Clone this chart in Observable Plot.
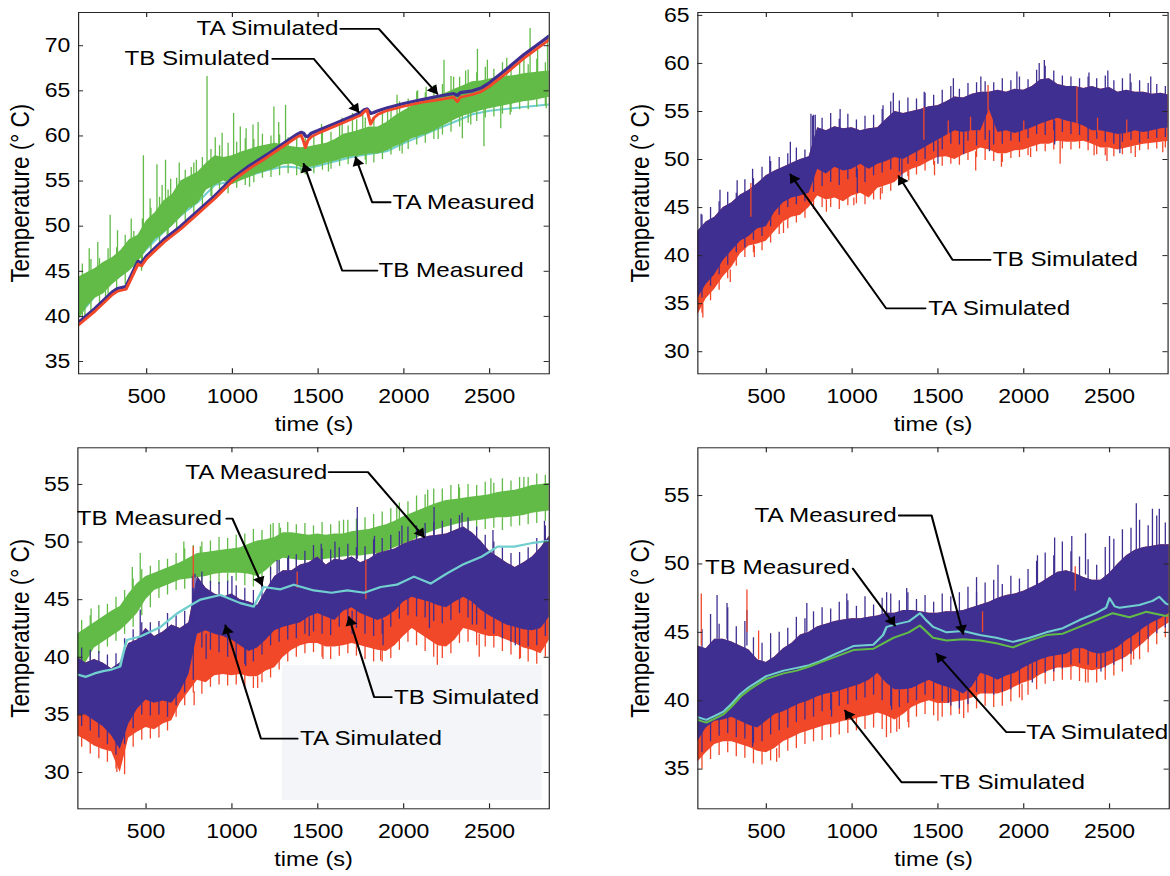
<!DOCTYPE html>
<html><head><meta charset="utf-8">
<script src="https://cdn.jsdelivr.net/npm/d3@7"></script>
<script src="https://cdn.jsdelivr.net/npm/@observablehq/plot@0.6"></script>
<style>
html,body{margin:0;padding:0;background:#fff;overflow:hidden;width:1170px;height:876px}
#wrap{position:absolute;left:0;top:0;width:992px;height:876px;transform:scaleX(1.18);transform-origin:0 0;}
.panel{position:absolute}
#shade{position:absolute;left:238.6px;top:665px;width:220.5px;height:135px;background:#f3f5f9}
</style></head><body><div id="wrap"><div id="shade"></div></div>
<script>
const S = 1.18;
const FONT = '"Liberation Sans", Arial, Helvetica, sans-serif';
const BLUE = "#3f2f91", RED = "#f2482a", GREEN = "#62bb47", CYAN = "#72cfcf";

// time grids (s)
const T = [100,150,200,250,300,350,400,450,500,550,600,650,700,750,800,850,900,950,1000,1050,1100,1150,1200,1250,1300,1350,1400,1450,1500,1550,1600,1650,1700,1750,1800,1850,1900,1950,2000,2050,2100,2150,2200,2250,2300,2350,2400,2450,2500,2550,2600,2650,2700,2750,2800,2850];
const TM = [125,175,225,275,325,375,425,475,525,575,625,675,725,775,825,875,925,975,1025,1075,1125,1175,1225,1275,1325,1375,1425,1475,1525,1575,1625,1675,1725,1775,1825,1875,1925,1975,2025,2075,2125,2175,2225,2275,2325,2375,2425,2475,2525,2575,2625,2675,2725,2775,2825];
const xTicks = [500,1000,1500,2000,2500];

// ---------- top-left ----------
const tlYTicks = [35,40,45,50,55,60,65,70];
const tlSimT = [100,200,300,330,380,420,450,470,500,600,700,800,900,1000,1100,1200,1300,1380,1400,1415,1426,1440,1460,1500,1600,1700,1750,1770,1785,1806,1825,1850,1900,2000,2100,2200,2290,2312,2330,2400,2450,2500,2600,2700,2800,2850];
const tlBlueSim = [39.3,40.9,42.7,43.1,43.3,44.9,46.1,45.9,46.7,48.5,50.0,51.7,53.4,55.3,56.7,57.9,59.2,60.2,60.4,60.3,60.0,59.9,60.3,60.6,61.4,62.2,62.6,62.9,63.0,62.5,62.6,62.8,63.1,63.6,64.0,64.4,64.7,64.5,64.8,65.0,65.3,65.9,67.4,69.0,70.4,71.1];
const tlRedSim = [39.0,40.6,42.4,42.8,43.0,44.6,45.8,45.6,46.4,48.2,49.7,51.4,53.1,55.0,56.4,57.6,58.9,59.9,60.1,59.4,58.7,59.5,59.9,60.3,61.1,61.9,62.3,62.7,62.9,61.3,62.0,62.4,62.8,63.3,63.7,64.0,64.3,63.8,64.3,64.6,64.9,65.5,67.0,68.6,70.0,70.7];
const tlGreenLo = [39.5,41.0,42.0,42.5,43.5,44.3,45.0,46.0,47.3,48.5,49.2,50.0,51.0,52.0,52.5,54.0,54.5,55.0,54.6,55.0,55.4,55.8,56.1,56.4,56.8,56.9,56.5,56.5,56.7,57.0,57.2,57.5,57.7,57.8,58.0,58.0,58.3,58.8,59.2,59.7,60.0,60.3,60.8,61.3,61.8,62.2,62.5,62.8,63.0,63.2,63.4,63.6,63.8,63.9,64.1,64.3];
const tlGreenHi = [44.3,44.8,45.3,46.0,46.5,47.3,48.5,49.0,50.6,51.5,52.8,53.5,55.0,55.5,56.0,57.0,57.8,57.6,57.8,58.2,58.5,58.8,59.0,59.2,59.0,58.8,58.7,58.8,59.0,59.2,59.6,60.2,60.4,60.7,61.0,61.0,61.5,62.2,62.8,63.3,63.7,64.0,64.4,64.8,65.2,65.6,66.0,66.1,66.3,66.5,66.6,66.7,66.9,67.0,67.1,67.2];
const tlGreenTop = [45.8,46.3,46.4,47.5,47.6, 49.0,49.4,50.8,52.0,53.2, 54.0,55.3,56.2,57.0,57.6, 58.5,58.9,59.2,59.3,59.7, 59.6,60.2,60.0,60.1,59.8, 59.9,60.1,59.8,60.6,60.4, 61.3,61.1,61.8,62.0,61.9, 62.6,63.1,63.8,64.1,64.9, 64.8,65.6,65.7,66.6,66.5, 67.3,67.0,67.6,67.4,68.1, 67.6,68.2,67.9,68.5,68.1];
const tlGreenBot = [39.4,40.6,41.2,42.1,43.0, 43.5,44.6,45.4,46.8,47.7, 48.7,49.5,50.6,51.2,52.3, 53.3,54.0,53.6,54.2,54.5, 54.8,55.3,55.4,55.6,55.8, 55.6,55.7,55.8,56.2,56.3, 56.6,56.8,56.9,57.3,57.0, 57.4,57.9,58.3,58.5,59.0, 59.2,59.6,60.1,60.4,61.0, 61.4,61.6,62.0,62.1,62.4, 62.6,62.9,62.9,63.2,63.3];
const tlGreenSpikes = [[287,44,51.2],[481,47.5,57.8],[560,49,56.8],[610,50,57.3],[690,51,57.0],[760,52,56.5],[852,55,66.6],[1007,56,62.5],[1046,56,61.0],[1150,57,61.5],[1242,57,63.2],[1310,57.5,63.4],[1700,59,62.5],[1905,60,63.2],[2040,61,63.7],[2234,62,68.4],[2341,59.7,63],[2429,64,69.6],[2467,58.8,63],[2487,64,68.4],[2565,60.8,64],[2736,65,71.9],[2838,65,71.1],
  [165,44,47.5],[215,44.5,48.2],[330,46,49.5],[410,47,50.8],[520,49,53.0],[590,50,54.5],[640,51,55.2],[790,54,57.3],[900,56,59.8],[940,56,60.3],[1080,57,60.8],[1120,57.5,61.2],[1270,58.5,61.5],[1520,58,61.3],[1640,58.5,62.0],[1760,59.5,62.3],[1960,61,64.5],[2080,62,65.0],[2130,62.5,65.4],[2290,63.5,66.5],[2360,64,67.2],[2600,65.5,68.6],[2700,66,69.0],[2780,66,69.5],
  [140,42,39.8],[260,43.5,41.5],[470,47,45.0],[620,50.5,48.3],[880,55,53.2],[1100,56,54.3],[1400,57.5,55.8],[1560,58,56.0],[1780,59,56.8],[1990,60,58.0],[2200,62,59.6],[2390,63,61.2],[2620,64.5,62.3],[2830,65,63.0]];
const tlCyanT = [100,200,300,400,500,600,700,800,900,1000,1100,1200,1300,1380,1420,1460,1500,1600,1700,1800,1900,2000,2100,2200,2300,2400,2500,2600,2700,2800,2850];
const tlCyan = [40.0,42.3,43.8,45.3,47.5,49.4,51.2,52.7,54.6,55.0,55.6,56.2,56.6,56.5,56.1,56.5,56.7,57.2,57.7,58.0,58.3,59.2,60.0,60.8,61.6,62.4,62.8,63.0,63.2,63.4,63.5];
const tlNotes = [
  {label: "TA Simulated", anchor: "end", at: [1619, 71.87], path: [[2195, 64.67], [1854, 71.87], [1630, 71.87]]},
  {label: "TB Simulated", anchor: "end", at: [1217, 68.55], path: [[1737, 62.63], [1474, 68.55], [1233, 68.55]]},
  {label: "TA Measured", anchor: "start", at: [1934, 52.65], path: [[1718, 57.64], [1815, 52.65], [1922, 52.65]]},
  {label: "TB Measured", anchor: "start", at: [1852, 45.08], path: [[1416, 56.91], [1640, 45.08], [1845, 45.08]]}
];

// ---------- top-right ----------
const trYTicks = [30,35,40,45,50,55,60,65];
const trBlueHi = [42.5,43.5,44.0,45.0,45.5,46.3,46.8,47.5,48.3,48.8,49.2,49.6,50.0,50.3,53.3,53.0,53.4,53.2,53.3,53.0,53.2,53.3,54.2,55.0,54.8,55.0,55.2,55.5,55.6,56.0,56.5,56.4,56.8,57.0,57.0,57.2,57.0,57.3,57.2,57.6,58.3,58.4,57.8,57.6,57.6,57.4,57.6,57.3,57.5,57.0,57.2,57.0,57.0,56.8,56.9,56.7];
const trBlueLo = [35.5,37.0,38.0,39.5,40.5,41.5,42.0,42.8,43.0,44.5,45.5,46.0,46.2,46.5,49.0,48.5,49.2,48.8,49.0,49.5,49.0,49.5,49.8,50.2,50.0,50.5,51.0,51.5,52.0,52.5,53.0,52.8,53.0,53.0,55.2,52.8,53.0,52.7,53.0,53.3,53.7,54.0,54.3,54.0,53.8,53.5,53.0,53.0,52.8,52.6,52.7,53.0,52.8,53.0,53.2,53.3];
const trBlueTop = [44.2,45.0,45.6,46.6,46.5, 47.9,48.0,49.2,49.8,50.2, 50.6,51.2,51.0,54.6,54.3, 54.8,54.2,54.7,54.1,54.5, 54.6,55.2,56.0,56.1,56.4, 56.3,56.9,56.7,57.2,57.6, 57.3,57.9,58.0,58.1,58.0, 58.4,58.2,58.6,58.3,59.3, 59.7,59.2,58.7,58.6,58.4, 58.6,58.4,58.7,58.2,58.4, 58.0,58.2,57.9,57.8,57.6];
const trBlueBot = [35.6,36.8,38.0,39.0,40.3, 40.8,41.6,42.0,43.0,44.2, 45.0,45.3,45.6,46.6,47.2, 47.6,47.3,47.9,48.1,47.6, 48.3,48.6,48.9,48.7,49.5, 49.8,50.0,50.8,51.0,51.6, 51.5,51.9,51.4,52.0,51.5, 51.6,51.9,51.8,52.2,52.6, 52.5,53.0,52.8,52.6,52.5, 51.9,52.1,51.8,51.6,51.8, 52.0,51.7,52.1,52.2,52.3];
const trBlueUp = [[120,42,44.3],[230,44,46.8],[330,45.5,47.8],[420,47,49.0],[520,48.5,50.3],[640,49.5,51.8],[760,50.3,54.7],[770,50.5,54.5],[785,51,54.6],[930,53,55.2],[1180,53.5,55.6],[1240,54.5,56.9],[1420,55,57.0],[1590,56,58.4],[1750,57,58.6],[1960,57,59.1],[2090,58,60.0],[2120,58.3,60.3],[2380,57.5,59.0],[2490,57.4,59.2],[2620,57.1,58.9],[2740,56.8,58.6]];
const trBlueDown = [[1030,49,46.5],[1290,50,47.8],[1500,52,49.5],[1650,52.8,50.5],[1800,53,50.8],[2180,54,51.5],[2560,52.6,50.6]];
const trRedLo = [33.8,35.5,36.5,37.8,38.8,40.2,41.0,41.2,41.5,42.5,43.5,44.0,44.2,45.0,46.2,45.8,46.0,45.6,46.2,46.5,46.0,47.0,47.3,47.6,48.5,49.0,49.3,49.8,50.2,50.3,50.0,50.5,50.8,51.2,51.0,50.6,50.6,50.9,51.0,51.3,51.6,51.6,51.9,51.8,51.8,51.9,51.6,51.2,51.2,51.0,51.2,51.4,51.6,51.7,51.8,51.9];
const trRedBot = [34.0,35.3,36.4,37.6,38.9, 39.8,40.3,40.5,41.3,42.2, 42.8,43.4,43.9,44.8,45.0, 45.0,44.8,45.2,45.4,45.3, 45.8,46.4,46.7,47.5,48.2, 48.4,48.8,49.4,49.3,49.5, 49.4,49.9,50.2,49.9,49.8, 49.7,50.1,50.2,50.4,50.8, 50.8,51.0,51.1,51.0,51.1, 50.9,50.5,50.4,50.3,50.5, 50.6,50.9,51.0,51.1,51.2];
const trRedDown = [[130,35,33.5],[290,38.5,37.2],[430,41,39.8],[600,43.5,42.3],[850,45.8,44.5],[1010,46,45.2],[1165,47,45.8],[1330,48.8,47.8],[1480,49.8,48.3],[1720,50.8,48.8],[1870,50.6,49.2],[2040,51.2,50.2],[2212,51.9,49.5],[2410,51.6,50.4],[2485,51.2,49.8],[2650,51.4,50.2],[2810,51.8,50.7]];
const trRedUp = [[1418,52,55.4],[1792,55,57.7],[2310,53.5,57.5],[1560,52,54.0],[1690,52.5,54.4],[2000,52.5,54.0],[2430,52.8,54.3],[2600,52.5,54.1],[410,44,47.5]];
const trNotes = [
  {label: "TB Simulated", anchor: "start", at: [1820, 39.56], path: [[1271, 48.27], [1585, 39.56], [1806, 39.56]]},
  {label: "TA Simulated", anchor: "start", at: [1443, 34.51], path: [[640, 48.45], [1198, 34.51], [1427, 34.51]]}
];

// ---------- bottom-left ----------
const blYTicks = [30,35,40,45,50,55];
const blGreenLo = [38.0,39.5,40.8,41.3,41.8,42.3,43.0,43.8,45.0,45.8,46.1,46.4,46.7,46.8,46.9,47.0,47.2,47.3,47.3,47.3,47.2,47.0,47.5,48.2,48.6,48.5,48.4,48.4,48.4,48.5,48.6,48.7,48.8,48.8,48.9,49.0,49.2,49.5,49.8,50.1,50.5,50.8,51.1,51.3,51.5,51.7,51.8,51.9,52.0,52.1,52.1,52.2,52.3,52.5,52.6,52.7];
const blGreenHi = [42.0,42.5,43.0,43.5,44.0,44.4,45.5,46.4,47.0,47.3,47.6,47.9,48.2,48.6,49.0,49.1,49.2,49.3,49.4,49.5,49.8,50.1,50.2,50.4,50.8,50.8,50.7,50.6,50.7,50.6,50.7,50.7,50.9,51.0,51.1,51.3,51.5,51.8,52.2,52.5,52.8,53.1,53.4,53.6,53.7,53.8,53.9,54.0,54.1,54.3,54.4,54.5,54.7,54.9,55.0,55.1];
const blGreenTop = [43.2,43.6,44.5,44.6,45.2, 45.8,46.8,47.6,47.9,48.4, 48.5,49.0,49.4,49.7,50.0, 50.1,50.4,50.3,50.6,50.7, 51.1,51.0,51.5,51.6,51.7, 51.5,51.6,51.4,51.7,51.5, 51.8,51.9,52.0,52.1,52.4, 52.6,52.9,53.4,53.5,54.0, 54.1,54.6,54.6,54.9,54.7, 55.0,54.9,55.2,55.1,55.5, 55.3,55.6,55.6,55.9,55.8];
const blGreenBot = [38.2,39.6,40.3,40.9,41.4, 42.0,42.6,43.6,44.3,45.1, 45.4,45.8,45.9,46.1,46.0, 46.4,46.3,46.5,46.6,46.2, 46.1,46.5,47.1,47.5,47.6, 47.5,47.6,47.4,47.7,47.6, 47.8,47.9,48.0,47.9,48.2, 48.3,48.6,48.8,49.2,49.5, 49.8,50.2,50.4,50.5,50.8, 50.9,51.0,51.1,51.2,51.0, 51.3,51.4,51.5,51.6,51.8];
const blGreenSpikes = [[466,45,49.0],[816,48,49.6],[1283,50,51.2],[1650,50,51.9],[2508,53,55.5],[2700,54,55.6],[180,42,44.2],[420,45.5,47.8],[720,48,50.0],[1240,50.3,51.6],[1960,51.6,53.0],[2140,53,54.5],[2320,53.6,55.0]];
const blCyanT = [100,150,200,250,291,349,370,388,466,582,680,758,816,933,1049,1127,1185,1283,1360,1477,1580,1672,1770,1866,1960,2060,2157,2255,2352,2450,2547,2644,2742,2850];
const blCyan = [38.5,38.3,38.6,38.8,38.9,39.2,40.5,41.5,41.8,42.6,43.8,44.5,45.0,45.4,44.7,44.4,46.1,45.9,46.3,45.8,45.6,45.8,45.6,46.1,46.3,47.0,46.4,47.3,48.1,48.7,49.6,49.6,49.9,50.1];
const blBlueHi = [40.0,39.5,39.8,39.5,39.0,39.5,41.2,41.5,42.5,41.8,42.2,42.8,42.5,43.0,47.0,46.0,45.5,45.2,45.5,45.0,44.8,44.5,45.8,47.0,47.5,47.5,48.0,48.2,48.7,48.0,48.5,48.4,48.7,48.2,48.5,49.0,49.2,49.4,49.8,50.1,50.3,50.5,50.6,50.7,51.0,51.3,50.8,50.1,49.2,48.7,48.2,47.8,48.2,48.7,49.5,50.5];
const blBlueLo = [35.0,35.0,34.5,34.0,33.2,32.0,34.2,35.5,36.3,36.0,36.2,36.0,37.0,38.5,42.0,42.3,42.0,41.8,41.5,41.0,40.5,40.8,41.5,42.3,42.6,42.8,43.0,43.5,43.8,43.5,43.2,44.0,44.3,43.8,43.5,43.2,43.5,44.0,44.8,45.2,45.0,44.8,44.5,44.3,44.8,45.2,44.8,44.1,43.6,43.2,42.8,42.6,42.4,42.3,42.5,43.5];
const blBlueTop = [40.8,40.6,40.5,40.2,40.3, 41.6,42.4,43.0,43.0,43.1, 43.8,43.6,44.0,47.2,47.4, 46.6,46.5,46.6,46.2,46.0, 45.8,46.6,47.8,48.4,48.6, 48.9,49.2,49.7,49.4,49.3, 49.5,49.8,49.5,49.6,50.2, 50.3,50.6,50.9,51.3,51.4, 51.6,51.7,51.8,52.0,52.3, 52.1,51.3,50.6,50.0,49.5, 49.0,49.1,49.5,50.3,51.4];
const blBlueBot = [34.0,33.6,33.0,32.4,31.5, 32.4,33.8,35.0,34.9,35.0, 34.8,35.8,36.9,38.0,40.8, 40.6,40.4,40.0,39.8,39.4, 39.6,40.2,41.0,41.3,41.5, 41.6,42.0,42.2,42.0,41.9, 42.6,42.8,42.5,42.0,41.8, 42.0,42.6,43.3,43.6,43.5, 43.4,43.1,42.9,43.2,43.8, 43.4,42.8,42.4,42.0,41.6, 41.3,41.0,40.9,41.0,41.8];
const blBlueSpikes = [[466,41,44.1],[770,43,47.0],[785,44,47.2],[1000,45,47.0],[1263,47,48.4],[1330,47,48.8],[1520,48,49.8],[1600,48,50.0],[1730,48.5,53.0],[1830,48,50.5],[1990,49.5,51.4],[2177,50.5,53.0],[2340,51,52.5],[2520,49,51.0],[2820,49.5,51.8],
  [850,42,39.8],[1080,41,39.2],[1450,43.5,41.8],[1700,44,42.0],[1880,43.2,41.0],[2150,44.8,42.5],[2400,44.8,42.8],[2650,42.6,41.0]];
const blRedLo = [33.2,32.8,32.3,32.0,31.8,30.0,33.0,33.5,33.9,33.7,34.2,34.5,36.0,37.0,38.0,37.8,38.4,38.5,38.4,38.5,38.3,38.3,38.8,39.1,40.0,40.6,41.0,41.2,41.2,40.9,40.9,41.0,41.2,41.0,40.8,40.6,40.5,41.0,41.8,42.5,42.0,41.5,41.0,40.9,41.5,42.5,42.3,42.0,41.8,41.8,41.5,41.2,40.8,40.6,40.3,41.5];
const blRedBot = [32.2,31.6,31.2,30.9,30.3, 29.8,32.2,32.8,32.9,33.0, 33.6,34.8,35.8,36.9,36.8, 37.4,37.6,37.5,37.6,37.4, 37.3,37.8,38.2,38.9,39.6, 40.0,40.3,40.4,40.0,39.8, 40.1,40.3,40.1,39.8,39.6, 39.6,39.9,40.6,41.3,41.0, 40.5,40.0,39.9,40.3,41.2, 41.3,41.0,40.9,40.8,40.5, 40.2,39.8,39.6,39.4,40.0];
const blRedDown = [[330,31,30.0],[780,37,35.8],[1150,38.3,37.3],[1530,41,39.8],[1866,41,39.7],[2196,41,39.3],[2440,42,40.0],[2680,41,39.9]];
const blRedUp = [[775,46,49.6],[1780,45,48.4],[1380,46,47.4]];
const blNotes = [
  {label: "TA Measured", anchor: "end", at: [1555, 56.07], path: [[2119, 50.43], [1792, 56.07], [1564, 56.07]]},
  {label: "TB Measured", anchor: "end", at: [942, 52.03], path: [[1176, 46.24], [1003, 52.03], [968, 52.03]]},
  {label: "TB Simulated", anchor: "start", at: [1944, 36.55], path: [[1681, 43.49], [1828, 36.55], [1930, 36.55]]},
  {label: "TA Simulated", anchor: "start", at: [1396, 32.94], path: [[962, 42.77], [1169, 32.94], [1382, 32.94]]}
];

// ---------- bottom-right ----------
const brYTicks = [35,40,45,50,55];
const brBlueHi = [44.0,43.8,44.5,44.5,44.3,44.0,43.7,43.0,42.8,43.2,43.8,44.2,44.8,45.0,45.4,45.6,45.8,45.9,46.0,46.0,46.1,46.2,46.4,46.4,46.6,46.6,46.5,46.4,46.4,46.5,46.5,46.6,46.8,47.0,47.2,47.5,47.7,47.8,48.0,48.3,48.6,49.0,49.4,49.5,49.3,49.0,48.8,48.8,49.3,50.0,50.6,51.0,51.2,51.3,51.4,51.4];
const brBlueLo = [37.0,38.0,38.5,38.6,38.8,38.5,38.2,38.0,38.5,39.0,39.2,39.5,39.8,40.0,40.3,40.5,40.6,40.8,41.0,41.2,41.5,42.0,41.3,40.8,40.8,40.9,41.2,41.5,41.2,41.0,40.8,40.5,41.0,42.0,41.8,41.5,41.8,42.0,42.4,42.7,43.0,43.2,43.3,43.4,43.8,43.8,43.5,43.4,43.6,43.9,44.4,44.8,45.3,45.7,46.0,46.4];
const brBlueTop = [45.2,46.3,45.6,46.8,45.4, 45.8,44.6,44.2,44.9,45.0, 45.3,46.1,46.0,46.5,46.8, 46.7,47.2,47.3,46.9,47.6, 47.0,47.5,47.8,47.3,47.9, 47.4,47.7,47.2,47.8,47.6, 47.9,48.3,47.9,48.6,48.8, 48.5,49.1,48.9,49.6,50.2, 50.8,50.6,51.6,50.9,50.5, 50.3,49.9,51.2,51.8,52.5, 52.6,53.2,52.8,53.5,53.0];
const brBlueBot = [36.2,37.0,37.4,37.6,37.3, 37.2,36.9,37.0,37.5,37.8, 38.0,38.4,38.6,38.8,39.2, 39.3,39.6,39.7,40.0,40.2, 40.4,40.0,39.6,39.5,39.8, 40.0,40.4,40.1,39.9,39.6, 39.4,39.7,40.6,40.5,40.4, 40.6,40.8,41.2,41.5,41.8, 42.0,42.1,42.3,42.6,42.7, 42.6,42.4,42.4,42.6,43.0, 43.4,44.0,44.5,44.9,45.3];
const brBlueSpikes = [[213,44.5,47.7],[271,44.5,47.1],[387,44,46.6],[736,45,47.1],[969,45.9,47.8],[1201,46.2,47.9],[1318,46.5,48.2],[1725,46.9,49.0],[1850,47.5,49.9],[2080,48.4,50.6],[2180,49,51.9],[2280,49.4,52.0],[2360,49.2,52.2],[2500,49,52.0],[2656,51,54.4],[2750,51.2,54.0],[2790,51.3,54.0],
  [420,38.2,36.6],[880,40.5,38.8],[1230,41,39.3],[1560,41,39.8],[2050,42.7,41.3],[2450,43.4,42.1]];
const brRedLo = [35.5,36.2,36.8,37.0,37.0,36.8,36.6,36.3,36.2,36.5,37.0,37.3,37.6,37.8,38.0,38.2,38.3,38.5,38.6,38.8,38.9,39.1,38.9,38.6,39.0,39.5,39.8,40.0,39.8,39.8,39.9,40.0,40.2,40.5,40.5,40.5,40.7,41.0,41.3,41.5,41.9,42.2,42.4,42.4,42.5,42.3,42.2,42.3,42.6,42.9,43.2,43.7,44.2,44.8,45.3,45.7];
const brRedBot = [35.0,35.7,36.0,36.2,35.9, 35.8,35.4,35.3,35.6,35.8, 36.3,36.5,36.8,37.0,37.1, 37.3,37.5,37.6,37.8,37.9, 38.0,37.9,37.6,37.9,38.4, 38.8,39.0,38.9,38.8,38.9, 39.0,39.1,39.4,39.6,39.5, 39.6,39.9,40.2,40.4,40.8, 41.2,41.4,41.5,41.5,41.4, 41.3,41.3,41.5,41.8,42.1, 42.6,43.0,43.5,44.1,44.6];
const brRedDown = [[560,36.5,35.5],[1200,39,37.3],[1260,39,37.7],[1330,39.5,38.0],[1500,40,38.5],[1650,40,38.7],[1990,41.2,40.0],[2360,42.3,41.3],[2640,44,43.0]];
const brRedUp = [[121,44,47.8],[387,45,48.1],[455,43,45.1],[1760,45,46.5],[2300,48,49.8]];
const brCyanT = [100,150,200,250,300,350,400,450,500,550,600,678,750,814,900,1007,1124,1180,1201,1260,1330,1395,1430,1472,1550,1647,1744,1840,1937,2034,2131,2228,2325,2422,2480,2500,2530,2558,2674,2751,2790,2829,2850];
const brCyan = [38.8,38.6,38.9,39.2,39.8,40.5,41.0,41.4,41.8,42.0,42.2,42.4,42.6,42.9,43.4,44.0,44.1,44.8,45.4,45.6,45.8,46.4,45.9,45.4,45.0,45.1,44.8,44.6,44.3,44.6,45.0,45.3,45.9,46.4,46.8,47.5,46.9,46.8,47.0,47.3,47.6,47.1,47.0];
const brGreenT = [100,150,200,250,300,350,400,450,500,550,600,678,750,814,900,1007,1124,1240,1330,1395,1472,1550,1647,1744,1840,1937,2034,2131,2228,2325,2422,2519,2616,2713,2829,2850];
const brGreen = [38.6,38.4,38.7,39.0,39.6,40.3,40.8,41.2,41.6,41.8,42.0,42.2,42.5,42.8,43.2,43.7,43.8,44.6,45.0,45.5,44.6,44.4,44.5,44.4,44.2,43.9,44.4,44.8,44.9,45.4,45.9,46.4,46.1,46.5,46.2,46.3];
const brNotes = [
  {label: "TA Measured", anchor: "end", at: [1259, 53.54], path: [[1647, 44.89], [1463, 53.54], [1273, 53.54]]},
  {label: "TB Measured", anchor: "end", at: [988, 49.76], path: [[1249, 45.5], [1004, 49.66]]},
  {label: "TA Simulated", anchor: "start", at: [2015, 37.7], path: [[1492, 43.43], [1899, 37.7], [2005, 37.7]]},
  {label: "TB Simulated", anchor: "start", at: [1511, 34.04], path: [[959, 39.28], [1288, 34.04], [1492, 34.04]]}
];

// ---------- helpers ----------
const band = (t, lo, hi) => t.map((d, i) => ({t: d, lo: lo[i], hi: hi[i]}));
const series = (t, v) => t.map((d, i) => ({t: d, v: v[i]}));
const area = (data, fill) => Plot.areaY(data, {x: "t", y1: "lo", y2: "hi", fill, clip: true});
const line = (data, stroke, w) => Plot.line(data, {x: "t", y: "v", stroke, strokeWidth: w, clip: true});
const spikes = (data, stroke) => Plot.ruleX(data, {x: d => d[0], y1: d => d[1], y2: d => d[2], stroke, strokeWidth: 1.1, clip: true});
// fringe spikes at the mid times TM: from the band edge (nearest typed edge values) out to the typed tip
const fringeUp = (tops, hi, stroke) => Plot.ruleX(TM.map((t, i) => ({t, a: Math.min(hi[i], hi[i + 1]), b: tops[i]})), {x: "t", y1: "a", y2: "b", stroke, strokeWidth: 1.1, clip: true});
const fringeDown = (bots, lo, stroke) => Plot.ruleX(TM.map((t, i) => ({t, a: Math.max(lo[i], lo[i + 1]), b: bots[i]})), {x: "t", y1: "a", y2: "b", stroke, strokeWidth: 1.1, clip: true});

function makePanel(cfg) {
  const {left, top, width, height, ml, mr, mt, mb, xDomain, yDomain, yTicks, layers, notes} = cfg;
  const fw = width - ml - mr, fh = height - mt - mb;
  const sx = Plot.scale({x: {domain: xDomain, range: [ml, width - mr]}});
  const sy = Plot.scale({y: {domain: yDomain, range: [height - mb, mt]}});
  const legs = [], heads = [];
  notes.forEach((n, i) => {
    n.path.forEach(p => legs.push({id: i, t: p[0], v: p[1]}));
    const [tip, nxt] = n.path;
    const px = sx.apply(tip[0]), py = sy.apply(tip[1]);
    const qx = sx.apply(nxt[0]), qy = sy.apply(nxt[1]);
    const dx = px - qx, dy = py - qy;
    const L = Math.hypot(dx * S, dy);
    const ux = dx * S / L, uy = dy / L;
    heads.push({t: sx.invert(px - ux * 5.5 / S), v: sy.invert(py - uy * 5.5), rot: Math.atan2(dx, -dy) * 180 / Math.PI});
  });
  const marks = [
    ...layers,
    Plot.frame({stroke: "#262626", strokeWidth: 1}),
    Plot.tickX(xTicks, {x: d => d, insetTop: fh - 5, stroke: "#262626"}),
    Plot.tickX(xTicks, {x: d => d, insetBottom: fh - 5, stroke: "#262626"}),
    Plot.tickY(yTicks, {y: d => d, insetRight: fw - 4.3, stroke: "#262626"}),
    Plot.tickY(yTicks, {y: d => d, insetLeft: fw - 4.3, stroke: "#262626"}),
    Plot.axisX(xTicks, {tickSize: 0, tickPadding: 15, tickFormat: d => String(d), label: null, fontSize: 19.5}),
    Plot.axisY(yTicks, {tickSize: 0, tickPadding: 7, tickFormat: d => String(d), label: null, fontSize: 19.5}),
    Plot.text(["time (s)"], {frameAnchor: "bottom", textAnchor: "middle", lineAnchor: "middle", dy: 51, fontSize: 20, fill: "black"}),
    Plot.text(["Temperature (° C)"], {frameAnchor: "left", textAnchor: "middle", lineAnchor: "middle", dx: -49, rotate: -90, fontSize: 22.5, fill: "black"}),
    Plot.line(legs, {x: "t", y: "v", z: "id", stroke: "black", strokeWidth: 1.8}),
    Plot.dot(heads, {x: "t", y: "v", symbol: "triangle", r: 3.8, fill: "black", stroke: "none", rotate: "rot"}),
    Plot.text(notes.filter(n => n.anchor === "end"), {x: d => d.at[0], y: d => d.at[1], text: "label", textAnchor: "end", fontSize: 20.5, fill: "black"}),
    Plot.text(notes.filter(n => n.anchor === "start"), {x: d => d.at[0], y: d => d.at[1], text: "label", textAnchor: "start", fontSize: 20.5, fill: "black"})
  ];
  const svg = Plot.plot({
    width, height, marginLeft: ml, marginRight: mr, marginTop: mt, marginBottom: mb,
    x: {domain: xDomain}, y: {domain: yDomain},
    style: {fontFamily: FONT, fontSize: "19.5px", color: "black", background: "transparent", overflow: "visible", maxWidth: "none"},
    marks
  });
  svg.classList.add("panel");
  svg.style.left = left + "px";
  svg.style.top = top + "px";
  document.getElementById("wrap").appendChild(svg);
}

makePanel({
  left: 0, top: 0, width: 480, height: 440, ml: 66.1, mr: 15, mt: 12, mb: 66.7,
  xDomain: [103, 2848], yDomain: [33.64, 73.68], yTicks: tlYTicks, notes: tlNotes,
  layers: [
    line(series(tlCyanT, tlCyan), CYAN, 2),
    area(band(T, tlGreenLo, tlGreenHi), GREEN),
    fringeUp(tlGreenTop, tlGreenHi, GREEN),
    fringeDown(tlGreenBot, tlGreenLo, GREEN),
    spikes(tlGreenSpikes, GREEN),
    line(series(tlSimT, tlBlueSim), BLUE, 3.2),
    line(series(tlSimT, tlRedSim), RED, 2.6)
  ]
});

makePanel({
  left: 510, top: 0, width: 481.5, height: 440, ml: 80.9, mr: 2.1, mt: 12, mb: 66.7,
  xDomain: [101, 2841], yDomain: [27.7, 65.3], yTicks: trYTicks, notes: trNotes,
  layers: [
    area(band(T, trRedLo, trBlueHi), RED),
    fringeDown(trRedBot, trRedLo, RED),
    spikes(trRedDown, RED),
    area(band(T, trBlueLo, trBlueHi), BLUE),
    fringeUp(trBlueTop, trBlueHi, BLUE),
    spikes(trBlueUp, BLUE),
    fringeDown(trBlueBot, trBlueLo, BLUE),
    spikes(trBlueDown, BLUE),
    spikes(trRedUp, RED)
  ]
});

makePanel({
  left: 0, top: 435, width: 480, height: 441, ml: 65.5, mr: 15, mt: 12.3, mb: 67.7,
  xDomain: [103, 2848], yDomain: [26.85, 58.18], yTicks: blYTicks, notes: blNotes,
  layers: [
    area(band(T, blGreenLo, blGreenHi), GREEN),
    fringeUp(blGreenTop, blGreenHi, GREEN),
    fringeDown(blGreenBot, blGreenLo, GREEN),
    spikes(blGreenSpikes, GREEN),
    area(band(T, blRedLo, blBlueHi), RED),
    fringeDown(blRedBot, blRedLo, RED),
    spikes(blRedDown, RED),
    area(band(T, blBlueLo, blBlueHi), BLUE),
    fringeUp(blBlueTop, blBlueHi, BLUE),
    fringeDown(blBlueBot, blBlueLo, BLUE),
    spikes(blBlueSpikes, BLUE),
    spikes(blRedUp, RED),
    line(series(blCyanT, blCyan), CYAN, 2.2)
  ]
});

makePanel({
  left: 510, top: 435, width: 481.5, height: 441, ml: 80.9, mr: 1.1, mt: 12.3, mb: 67.7,
  xDomain: [101, 2848], yDomain: [32.1, 58.49], yTicks: brYTicks, notes: brNotes,
  layers: [
    area(band(T, brRedLo, brBlueHi), RED),
    fringeDown(brRedBot, brRedLo, RED),
    spikes(brRedDown, RED),
    area(band(T, brBlueLo, brBlueHi), BLUE),
    fringeUp(brBlueTop, brBlueHi, BLUE),
    fringeDown(brBlueBot, brBlueLo, BLUE),
    spikes(brBlueSpikes, BLUE),
    spikes(brRedUp, RED),
    line(series(brCyanT, brCyan), CYAN, 2),
    line(series(brGreenT, brGreen), GREEN, 2)
  ]
});
</script></body></html>
